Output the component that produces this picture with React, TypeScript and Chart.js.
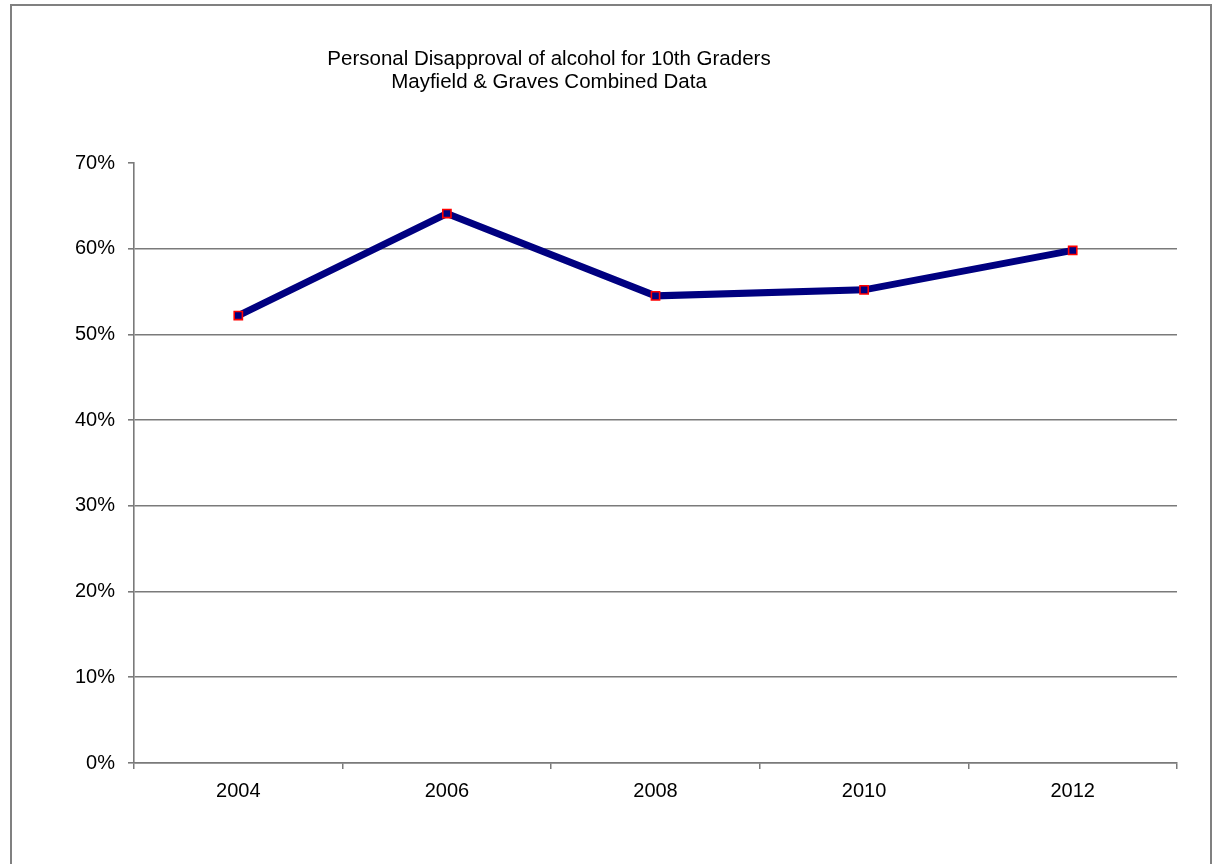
import { useEffect, useRef } from "react";
import { Chart, registerables } from "chart.js";

Chart.register(...registerables);

// Survey years and the share of 10th graders who personally disapprove of alcohol (%)
const YEARS = ["2004", "2006", "2008", "2010", "2012"];
const DISAPPROVAL = [52.2, 64.1, 54.5, 55.2, 59.8];

const TITLE_LINES = [
  "Personal Disapproval of alcohol for 10th Graders",
  "Mayfield & Graves Combined Data",
];

const Y_MIN = 0;
const Y_MAX = 70;
const Y_STEP = 10;

const FONT_FAMILY = "'Liberation Sans', Arial, sans-serif";
const AXIS_GRAY = "#7a7a7a";
const LINE_NAVY = "#000080";

// Two-line heading drawn slightly left of the plot centre
const headingPlugin = {
  id: "heading",
  afterDraw(chart: Chart) {
    const { ctx } = chart;
    ctx.save();
    ctx.fillStyle = "#000";
    ctx.font = `20.5px ${FONT_FAMILY}`;
    ctx.textAlign = "center";
    ctx.textBaseline = "alphabetic";
    TITLE_LINES.forEach((line, i) => {
      ctx.fillText(line, 549, 65 + i * 23);
    });
    ctx.restore();
  },
};

export default function App() {
  const canvasRef = useRef<HTMLCanvasElement | null>(null);

  useEffect(() => {
    const canvas = canvasRef.current;
    if (!canvas) return;
    const chart = new Chart(canvas, {
      type: "line",
      data: {
        labels: YEARS,
        datasets: [
          {
            data: DISAPPROVAL,
            borderColor: LINE_NAVY,
            borderWidth: 7,
            tension: 0,
            pointStyle: "rect",
            pointRadius: 5.8,
            pointBorderWidth: 1.6,
            pointBorderColor: "#ff0000",
            pointBackgroundColor: LINE_NAVY,
          },
        ],
      },
      options: {
        responsive: false,
        animation: false,
        devicePixelRatio: 1,
        layout: { padding: { top: 163, right: 37, left: 0, bottom: 0 } },
        plugins: {
          legend: { display: false },
          title: { display: false },
          tooltip: { enabled: false },
        },
        scales: {
          x: {
            type: "category",
            offset: true,
            grid: {
              offset: true,
              drawOnChartArea: false,
              drawTicks: true,
              tickLength: 6,
              color: AXIS_GRAY,
              tickColor: AXIS_GRAY,
              lineWidth: 1.5,
            },
            border: { display: true, color: AXIS_GRAY, width: 1.6 },
            ticks: {
              color: "#000",
              padding: 10,
              font: { family: FONT_FAMILY, size: 20 },
            },
            afterFit(scale: any) {
              scale.height = 101;
            },
          },
          y: {
            min: Y_MIN,
            max: Y_MAX,
            grid: {
              color: (c: any) => (c.tick && c.tick.value === Y_MAX ? "rgba(0,0,0,0)" : AXIS_GRAY),
              tickColor: AXIS_GRAY,
              tickLength: 6,
              lineWidth: 1.6,
            },
            border: { display: true, color: AXIS_GRAY, width: 1.6 },
            ticks: {
              stepSize: Y_STEP,
              color: "#000",
              padding: 13,
              font: { family: FONT_FAMILY, size: 20 },
              callback: (v: any) => `${v}%`,
            },
            afterFit(scale: any) {
              scale.width = 134;
            },
          },
        },
      },
      plugins: [headingPlugin],
    });
    return () => chart.destroy();
  }, []);

  return (
    <div style={{ position: "fixed", left: 0, top: 0, width: 1214, height: 864, background: "#fff", overflow: "hidden" }}>
      <div
        style={{
          position: "absolute",
          left: 10,
          top: 4,
          width: 1198,
          height: 900,
          border: "2px solid #808080",
        }}
      />
      <canvas ref={canvasRef} width={1214} height={864} style={{ position: "absolute", left: 0, top: 0 }} />
    </div>
  );
}
